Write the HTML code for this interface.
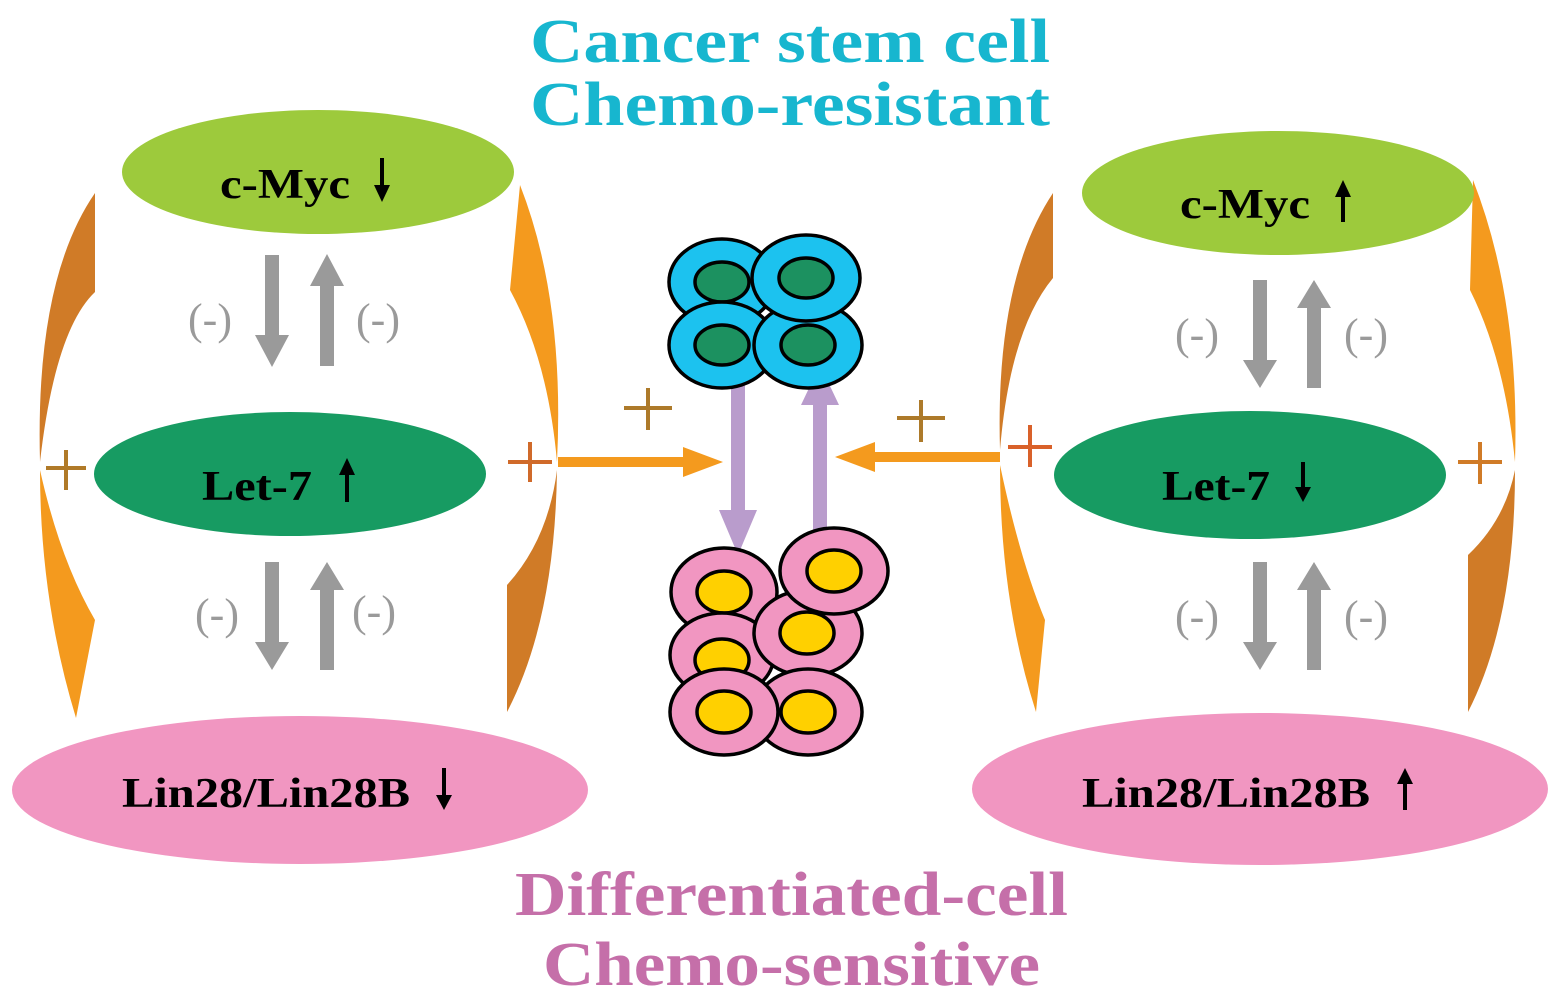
<!DOCTYPE html>
<html><head><meta charset="utf-8"><style>html,body{margin:0;padding:0;background:#fff}svg{display:block}</style></head>
<body>
<svg width="1559" height="1004" viewBox="0 0 1559 1004" xmlns="http://www.w3.org/2000/svg" font-family="'Liberation Serif', serif">
<!-- titles -->
<g font-weight="bold" font-size="62" fill="#17b6cf">
<text x="530" y="62" textLength="520" lengthAdjust="spacingAndGlyphs">Cancer stem cell</text>
<text x="530" y="125" textLength="520" lengthAdjust="spacingAndGlyphs">Chemo-resistant</text>
</g>
<g font-weight="bold" font-size="62" fill="#c56fa9">
<text x="515" y="915" textLength="553" lengthAdjust="spacingAndGlyphs">Differentiated-cell</text>
<text x="543" y="985" textLength="497" lengthAdjust="spacingAndGlyphs">Chemo-sensitive</text>
</g>

<!-- left panel curves -->
<path d="M95,193 L95,292 Q55,330 40,462 Q35,280 95,193 Z" fill="#d07b27"/>
<path d="M40,470 Q60,560 95,620 L76,718 Q40,600 40,470 Z" fill="#f49a1e"/>
<path d="M520,185 Q565,300 557,462 Q548,360 510,290 Z" fill="#f49a1e"/>
<path d="M557,470 Q555,620 507,712 L507,585 Q548,540 557,470 Z" fill="#d07b27"/>
<!-- right panel curves -->
<path d="M1053,193 L1053,278 Q1010,330 1000,450 Q995,280 1053,193 Z" fill="#d07b27"/>
<path d="M1000,465 Q1020,560 1045,620 L1036,712 Q1000,600 1000,465 Z" fill="#f49a1e"/>
<path d="M1473,180 Q1520,300 1515,462 Q1505,360 1470,290 Z" fill="#f49a1e"/>
<path d="M1515,470 Q1515,620 1468,712 L1468,555 Q1505,520 1515,470 Z" fill="#d07b27"/>

<!-- ellipses -->
<ellipse cx="318" cy="172" rx="196" ry="62" fill="#9dca3c"/>
<ellipse cx="290" cy="474" rx="196" ry="62" fill="#179b62"/>
<ellipse cx="300" cy="790" rx="288" ry="74" fill="#f196c1"/>
<ellipse cx="1278" cy="193" rx="196" ry="62" fill="#9dca3c"/>
<ellipse cx="1250" cy="475" rx="196" ry="64" fill="#179b62"/>
<ellipse cx="1260" cy="789" rx="288" ry="76" fill="#f196c1"/>

<!-- labels -->
<g font-weight="bold" font-size="42" fill="#000">
<text x="220" y="198" textLength="130" lengthAdjust="spacingAndGlyphs">c-Myc</text>
<text x="202" y="500" textLength="110" lengthAdjust="spacingAndGlyphs">Let-7</text>
<text x="122" y="807" textLength="288" lengthAdjust="spacingAndGlyphs">Lin28/Lin28B</text>
<text x="1180" y="218" textLength="130" lengthAdjust="spacingAndGlyphs">c-Myc</text>
<text x="1162" y="500" textLength="108" lengthAdjust="spacingAndGlyphs">Let-7</text>
<text x="1082" y="807" textLength="288" lengthAdjust="spacingAndGlyphs">Lin28/Lin28B</text>
</g>
<g fill="#000">
<rect x="380" y="158" width="4" height="30"/><polygon points="374,185 390,185 382,202"/>
<rect x="345" y="472" width="4" height="30"/><polygon points="339,475 355,475 347,458"/>
<rect x="442" y="768" width="4" height="30"/><polygon points="436,795 452,795 444,810"/>
<rect x="1341" y="196" width="4" height="26"/><polygon points="1335,197 1351,197 1343,180"/>
<rect x="1301" y="462" width="4" height="28"/><polygon points="1295,487 1311,487 1303,502"/>
<rect x="1403" y="782" width="4" height="28"/><polygon points="1397,784 1413,784 1405,768"/>
</g>

<!-- gray arrows -->
<g fill="#9a9a9a">
<path d="M265,255 h14 v80 h10 l-17,32 l-17,-32 h10 Z"/>
<path d="M320,366 h14 v-80 h10 l-17,-32 l-17,32 h10 Z"/>
<path d="M265,562 h14 v80 h10 l-17,28 l-17,-28 h10 Z"/>
<path d="M320,670 h14 v-80 h10 l-17,-28 l-17,28 h10 Z"/>
<path d="M1253,280 h14 v80 h10 l-17,28 l-17,-28 h10 Z"/>
<path d="M1307,388 h14 v-80 h10 l-17,-28 l-17,28 h10 Z"/>
<path d="M1253,562 h14 v80 h10 l-17,28 l-17,-28 h10 Z"/>
<path d="M1307,670 h14 v-80 h10 l-17,-28 l-17,28 h10 Z"/>
</g>
<g font-size="44" fill="#9a9a9a" text-anchor="middle">
<text x="210" y="334">(-)</text><text x="378" y="334">(-)</text>
<text x="217" y="629">(-)</text><text x="374" y="626">(-)</text>
<text x="1197" y="349">(-)</text><text x="1366" y="349">(-)</text>
<text x="1197" y="631">(-)</text><text x="1366" y="631">(-)</text>
</g>

<!-- plus signs -->
<g stroke-width="4" fill="none">
<path d="M46,468 h40 M66,450 v40" stroke="#b07a28"/>
<path d="M508,462 h44 M530,442 v40" stroke="#d06a2a"/>
<path d="M624,408 h48 M648,388 v42" stroke="#ad7a2a"/>
<path d="M897,418 h48 M921,400 v42" stroke="#ad7a2a"/>
<path d="M1008,447 h44 M1030,425 v42" stroke="#d9612a"/>
<path d="M1458,462 h44 M1480,442 v42" stroke="#d07b27"/>
</g>

<!-- orange horizontal arrows -->
<g fill="#f49a1e">
<path d="M558,457 h125 v-10 l40,15 l-40,15 v-10 h-125 Z"/>
<path d="M1000,452 h-125 v-10 l-40,15 l40,15 v-10 h125 Z"/>
</g>

<!-- purple arrows -->
<g fill="#b99ccc">
<path d="M731,385 h14 v125 h12 l-19,45 l-19,-45 h12 Z"/>
<path d="M813,530 h14 v-125 h12 l-19,-40 l-19,40 h12 Z"/>
</g>

<!-- blue cells -->
<g stroke="#000" stroke-width="3.5">
<ellipse cx="722" cy="282" rx="53" ry="43" fill="#1cc2ef"/>
<ellipse cx="722" cy="282" rx="27" ry="20" fill="#1c9160"/>
<ellipse cx="722" cy="345" rx="53" ry="43" fill="#1cc2ef"/>
<ellipse cx="722" cy="345" rx="27" ry="20" fill="#1c9160"/>
<ellipse cx="808" cy="345" rx="54" ry="43" fill="#1cc2ef"/>
<ellipse cx="808" cy="345" rx="27" ry="20" fill="#1c9160"/>
<ellipse cx="806" cy="278" rx="54" ry="43" fill="#1cc2ef"/>
<ellipse cx="806" cy="278" rx="27" ry="20" fill="#1c9160"/>
</g>
<!-- pink cells -->
<g stroke="#000" stroke-width="3.5">
<ellipse cx="724" cy="592" rx="53" ry="44" fill="#f196c1"/>
<ellipse cx="724" cy="592" rx="27" ry="21" fill="#ffd000"/>
<ellipse cx="722" cy="655" rx="52" ry="42" fill="#f196c1"/>
<ellipse cx="722" cy="660" rx="27" ry="21" fill="#ffd000"/>
<ellipse cx="808" cy="633" rx="54" ry="43" fill="#f196c1"/>
<ellipse cx="807" cy="633" rx="27" ry="21" fill="#ffd000"/>
<ellipse cx="834" cy="571" rx="54" ry="43" fill="#f196c1"/>
<ellipse cx="834" cy="571" rx="27" ry="21" fill="#ffd000"/>
<ellipse cx="808" cy="712" rx="54" ry="43" fill="#f196c1"/>
<ellipse cx="808" cy="712" rx="27" ry="21" fill="#ffd000"/>
<ellipse cx="724" cy="712" rx="54" ry="43" fill="#f196c1"/>
<ellipse cx="724" cy="712" rx="27" ry="21" fill="#ffd000"/>
</g>
</svg>
</body></html>
